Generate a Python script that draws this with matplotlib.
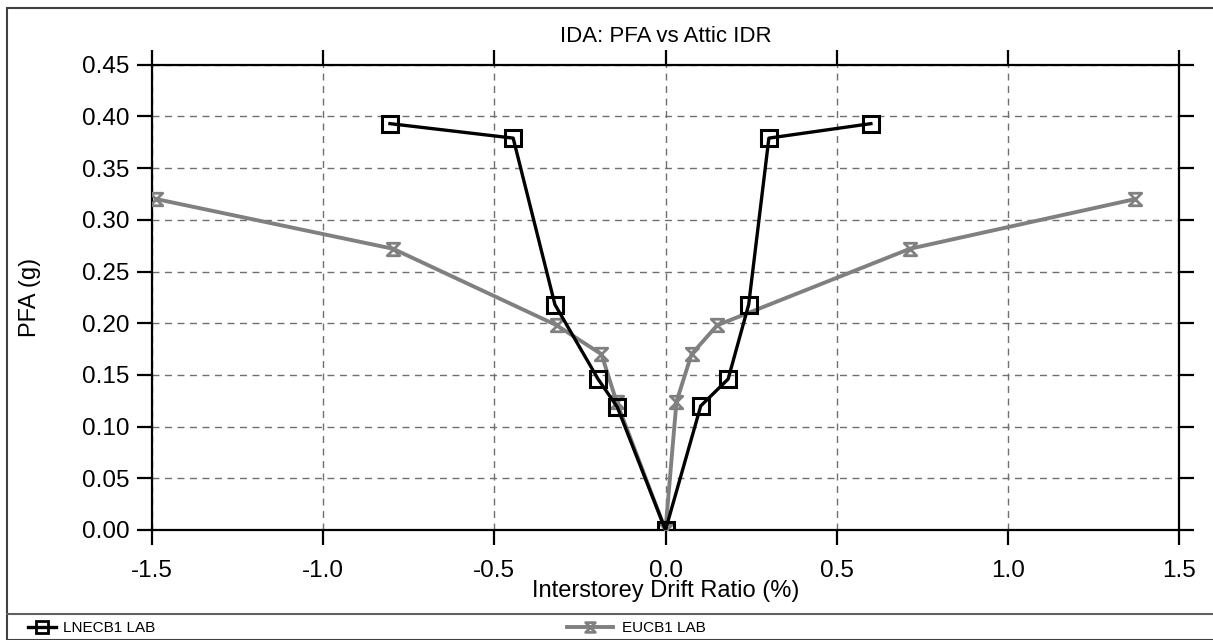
import matplotlib
matplotlib.use("Agg")
import matplotlib.pyplot as plt
from matplotlib.path import Path
from matplotlib.patches import Rectangle
from matplotlib.lines import Line2D

plt.rcParams['font.family'] = ['Liberation Sans', 'DejaVu Sans']

# Data
lnecb1_idr = [-0.805, -0.445, -0.323, -0.197, -0.141, 0.0, 0.103, 0.183, 0.243, 0.302, 0.600]
lnecb1_pfa = [0.393, 0.379, 0.218, 0.146, 0.119, 0.0, 0.120, 0.146, 0.218, 0.379, 0.393]
eucb1_idr = [-1.487, -0.796, -0.318, -0.187, -0.143, 0.0, 0.032, 0.076, 0.151, 0.714, 1.371]
eucb1_pfa = [0.320, 0.272, 0.198, 0.170, 0.124, 0.0, 0.124, 0.170, 0.198, 0.272, 0.320]
x_ticks = [-1.5, -1.0, -0.5, 0.0, 0.5, 1.0, 1.5]
y_ticks = [0.00, 0.05, 0.10, 0.15, 0.20, 0.25, 0.30, 0.35, 0.40, 0.45]
series_names = ["LNECB1 LAB", "EUCB1 LAB"]

W, H = 1213, 640
fig = plt.figure(figsize=(W / 100, H / 100), dpi=100)
ax_left, ax_right, ax_top, ax_bottom = 152, 1179, 64.7, 530
ax = fig.add_axes([ax_left / W, 1 - ax_bottom / H, (ax_right - ax_left) / W, (ax_bottom - ax_top) / H])
aw, ah = ax_right - ax_left, ax_bottom - ax_top

# hourglass marker
hourglass = Path([(-1, 1), (1, 1), (-1, -1), (1, -1), (-1, 1)],
                 [Path.MOVETO, Path.LINETO, Path.LINETO, Path.LINETO, Path.CLOSEPOLY])

gray = '#808080'
ax.plot(eucb1_idr, eucb1_pfa, color=gray, lw=2.8, marker=hourglass, ms=9,
        mfc='none', mec=gray, mew=2.0, zorder=3, label=series_names[1])
ax.plot(lnecb1_idr, lnecb1_pfa, color='black', lw=2.4, marker='s', ms=11,
        mfc='none', mec='black', mew=2.2, zorder=4, label=series_names[0])

ax.set_xlim(-1.5, 1.5)
ax.set_ylim(0, 0.45)
ax.set_xticks(x_ticks)
ax.set_xticklabels([f"{v:.1f}" for v in x_ticks])
ax.set_yticks(y_ticks)
ax.set_yticklabels([f"{v:.2f}" for v in y_ticks])
ax.grid(True, color='#707070', ls=(0, (5, 4)), lw=1.0)
ax.set_axisbelow(True)
for s in ax.spines.values():
    s.set_linewidth(1.6)
    s.set_color('black')
ax.tick_params(which='both', direction='out', length=11, width=1.6,
               top=True, right=True, labelsize=17.5, colors='black')
ax.tick_params(axis='y', pad=5)
ax.tick_params(axis='x', pad=10.5)

ax.set_title("IDA: PFA vs Attic IDR", fontsize=16, y=1 + (ax_top - 37) / ah, va='center', pad=0)
ax.set_xlabel("Interstorey Drift Ratio (%)", fontsize=17)
ax.xaxis.set_label_coords(0.5, -(591 - ax_bottom) / ah)
ax.xaxis.label.set_va('center')
ax.set_ylabel("PFA (g)", fontsize=17)
ax.yaxis.set_label_coords(-(ax_left - 30) / aw, 0.5)
ax.yaxis.label.set_va('center')

# outer frame and legend separator
fig.add_artist(Rectangle((7 / W, 0), 1.0, 1 - 8 / H, transform=fig.transFigure,
                         fill=False, ec='#404040', lw=1.5))
fig.add_artist(Line2D([7 / W, 1], [1 - 614 / H] * 2, transform=fig.transFigure,
                      color='#606060', lw=1.5))

h_black = Line2D([], [], color='black', lw=2.4, marker='s', ms=8, mfc='none', mec='black', mew=2.0)
h_gray = Line2D([], [], color=gray, lw=2.8, marker=hourglass, ms=7, mfc='none', mec=gray, mew=2.0)
fig.legend([h_black], [series_names[0]], loc='center left', bbox_to_anchor=(28 / W, 1 - 628 / H),
           frameon=False, fontsize=11, handlelength=1.8, handletextpad=0.5, borderpad=0, borderaxespad=0)
fig.legend([h_gray], [series_names[1]], loc='center left', bbox_to_anchor=(567 / W, 1 - 628 / H),
           frameon=False, fontsize=11, handlelength=3.0, handletextpad=0.6, borderpad=0, borderaxespad=0)

fig.savefig("out.png", dpi=100)
